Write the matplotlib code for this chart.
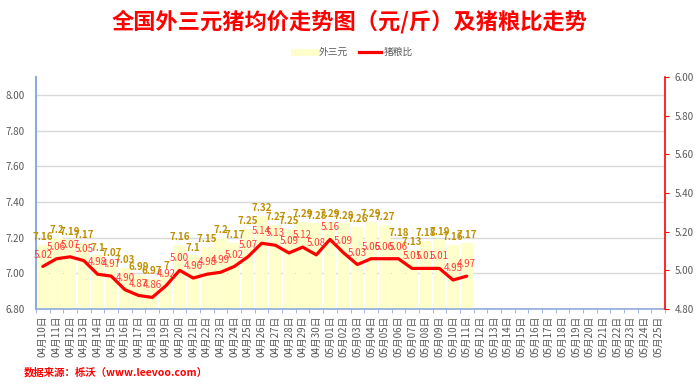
import matplotlib
matplotlib.use('Agg')
import matplotlib.pyplot as plt
from matplotlib.lines import Line2D

plt.rcParams['font.family'] = ['Noto Sans CJK SC', 'DejaVu Sans']

# categories: 04-10 .. 05-25
dates = ['04月%02d日' % d for d in range(10, 31)] + ['05月%02d日' % d for d in range(1, 26)]

# 外三元 price (yuan/jin)
price = [7.16, 7.2, 7.19, 7.17, 7.1, 7.07, 7.03, 6.99, 6.97, 7, 7.16,
         7.1, 7.15, 7.2, 7.17, 7.25, 7.32, 7.27, 7.25, 7.29, 7.28,
         7.29, 7.28, 7.26, 7.29, 7.27, 7.18, 7.13, 7.18, 7.19, 7.16, 7.17]
# 猪粮比
ratio = [5.02, 5.06, 5.07, 5.05, 4.98, 4.97, 4.90, 4.87, 4.86, 4.92, 5.00,
         4.96, 4.98, 4.99, 5.02, 5.07, 5.14, 5.13, 5.09, 5.12, 5.08,
         5.16, 5.09, 5.03, 5.06, 5.06, 5.06, 5.01, 5.01, 5.01, 4.95, 4.97]

left_ticks = [6.8, 7.0, 7.2, 7.4, 7.6, 7.8, 8.0]
right_ticks = [4.8, 5.0, 5.2, 5.4, 5.6, 5.8, 6.0]

gray = '#595959'
blue = '#8FAADC'
bar_color = '#FFFFCC'
bar_lab = '#BF9000'
red = '#FF0000'

fig = plt.figure(figsize=(7, 3.89), dpi=100)
ax = fig.add_axes([36 / 700, 1 - 309 / 389, 629 / 700, 232 / 389])
ax2 = ax.twinx()

n = len(price)
ax.bar(range(n), [p - 6.8 for p in price], bottom=6.8, width=0.9,
       color=bar_color, edgecolor='none', zorder=2)
for i, p in enumerate(price):
    ax.annotate('%g' % p, (i, p), xytext=(0, 2), textcoords='offset points',
                ha='center', va='bottom', fontsize=7, fontweight='bold',
                color=bar_lab, zorder=3)

ax2.plot(range(n), ratio, color=red, lw=2.3, solid_joinstyle='round',
         solid_capstyle='round', zorder=4)
for i, r in enumerate(ratio):
    ax2.annotate('%.2f' % r, (i, r), xytext=(0, 5), textcoords='offset points',
                 ha='center', va='bottom', fontsize=7, color='#FF3B3B', zorder=5)

ax.set_xlim(-0.5, len(dates) - 0.5)
ax.set_ylim(6.8, 8.1)
ax2.set_ylim(4.8, 6.0)

ax.set_yticks(left_ticks)
ax.set_yticklabels(['%.2f' % t for t in left_ticks])
ax.tick_params(axis='y', length=0, pad=8, labelsize=7, labelcolor=gray)
ax.yaxis.grid(True, color='#D9D9D9', lw=1)
ax.set_axisbelow(True)

ax.set_xticks(range(len(dates)))
ax.set_xticklabels(dates, rotation=90)
ax.set_xticks([i - 0.5 for i in range(len(dates) + 1)], minor=True)
ax.tick_params(axis='x', which='major', length=0, pad=5, labelsize=7, labelcolor=gray)
ax.tick_params(axis='x', which='minor', length=3, color=blue, direction='out')

ax2.set_yticks(right_ticks)
ax2.set_yticklabels(['%.2f' % t for t in right_ticks])
ax2.tick_params(axis='y', length=3, color=red, direction='out', pad=4,
                labelsize=7, labelcolor=gray)

for sp in ['top', 'right']:
    ax.spines[sp].set_visible(False)
ax.spines['left'].set_color(blue)
ax.spines['left'].set_linewidth(1.5)
ax.spines['bottom'].set_color(blue)
ax.spines['bottom'].set_linewidth(1.2)
for sp in ['top', 'left', 'bottom']:
    ax2.spines[sp].set_visible(False)
ax2.spines['right'].set_color(red)
ax2.spines['right'].set_linewidth(1.2)

fig.text(0.5, 1 - 22 / 389, '全国外三元猪均价走势图（元/斤）及猪粮比走势',
         ha='center', va='center', fontsize=16, fontweight='bold', color=red)

handles = [Line2D([0], [0], color=bar_color, lw=5),
           Line2D([0], [0], color=red, lw=2.3)]
fig.legend(handles, ['外三元', '猪粮比'], loc='center', bbox_to_anchor=(0.505, 1 - 52 / 389),
           ncol=2, frameon=False, fontsize=7, labelcolor=gray, handlelength=2.2,
           columnspacing=1.2, handletextpad=0.3)

fig.text(24 / 700, 1 - 372 / 389, '数据来源：栎沃（www.leevoo.com）', ha='left', va='center',
         fontsize=7.5, fontweight='bold', color=red)

fig.savefig('out.png', dpi=100)
